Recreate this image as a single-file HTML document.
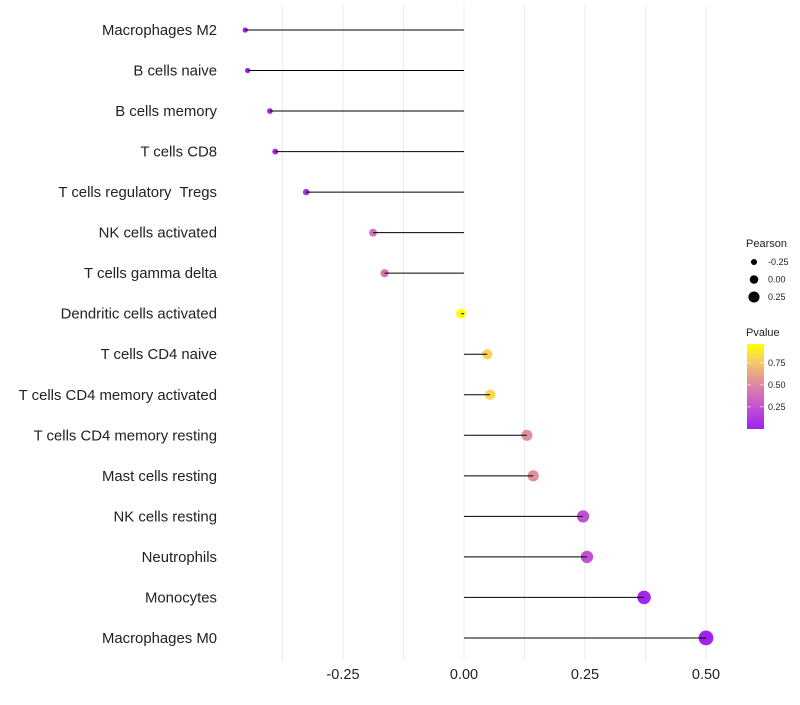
<!DOCTYPE html>
<html><head><meta charset="utf-8"><style>
body{margin:0;background:#fff;}
svg{font-family:"Liberation Sans",sans-serif;}
</style></head><body>
<svg id="chart" width="800" height="700"></svg>
<script>
const categories=["Macrophages M2","B cells naive","B cells memory","T cells CD8","T cells regulatory  Tregs","NK cells activated","T cells gamma delta","Dendritic cells activated","T cells CD4 naive","T cells CD4 memory activated","T cells CD4 memory resting","Mast cells resting","NK cells resting","Neutrophils","Monocytes","Macrophages M0"];
const pearson=[-0.452,-0.447,-0.401,-0.390,-0.326,-0.188,-0.164,-0.006,0.048,0.054,0.130,0.143,0.246,0.254,0.372,0.500];
const pvalues=[0.02,0.02,0.05,0.05,0.08,0.40,0.42,0.97,0.80,0.82,0.55,0.55,0.25,0.25,0.04,0.02];
const xTicks=[-0.25,0,0.25,0.5];
const xTickLabels=["-0.25","0.00","0.25","0.50"];
const sizeLegend=[-0.25,0,0.25];
const sizeLegendLabels=["-0.25","0.00","0.25"];
const colorTicks=[0.25,0.5,0.75];
const colorTickLabels=["0.25","0.50","0.75"];

const NS="http://www.w3.org/2000/svg";
const svg=document.getElementById('chart');
function mk(t,a,p){const e=document.createElementNS(NS,t);for(const k in a)e.setAttribute(k,a[k]);(p||svg).appendChild(e);return e;}
const x=v=>464+v*484;
const y=i=>30+i*40.53;
const r=v=>4.9+5*v;
const stops=[[0.01,[160,32,240]],[0.3,[200,90,205]],[0.55,[224,144,154]],[0.8,[248,210,90]],[0.97,[255,255,0]]];
function color(p){p=Math.max(0.01,Math.min(0.97,p));
 for(let i=0;i<stops.length-1;i++){const [a,ca]=stops[i],[b,cb]=stops[i+1];
  if(p<=b){const t=(p-a)/(b-a);return `rgb(${ca.map((c,k)=>Math.round(c+(cb[k]-c)*t))})`;}}
 return 'rgb(255,255,0)';}

for(let v=-0.375;v<=0.5001;v+=0.125){
 const g=mk('line',{x1:x(v),x2:x(v),y1:5,y2:660,stroke:'#ebebeb','stroke-width':1});
 
 
}
xTicks.forEach((v,i)=>{
 const t=mk('text',{x:x(v),y:679,'text-anchor':'middle','font-size':14.5,fill:'#222'});t.textContent=xTickLabels[i];
 
 
});
categories.forEach((c,i)=>{
 const t=mk('text',{x:217,y:y(i)+5,'text-anchor':'end','font-size':14.9,fill:'#222','xml:space':'preserve'});
 t.setAttributeNS('http://www.w3.org/XML/1998/namespace','xml:space','preserve');
 t.style.whiteSpace='pre';
 t.textContent=c;
 
 
 const pt=mk('circle',{cx:x(pearson[i]),cy:y(i),r:r(pearson[i]),fill:color(pvalues[i])});
 
 
 const ln=mk('line',{x1:x(0),x2:x(pearson[i]),y1:y(i),y2:y(i),stroke:'#000','stroke-width':1});
 
 
});
const lt=mk('text',{x:746,y:247,'font-size':11,fill:'#222'});lt.textContent='Pearson';


sizeLegend.forEach((v,i)=>{
 const c=mk('circle',{cx:754,cy:262+i*17.5,r:r(v)-0.6,fill:'#000'});
 
 
 const t=mk('text',{x:768,y:265+i*17.5,'font-size':9,fill:'#222'});t.textContent=sizeLegendLabels[i];
 
 
});
const pt2=mk('text',{x:746,y:336,'font-size':11,fill:'#222'});pt2.textContent='Pvalue';


const defs=mk('defs',{});
const lg=mk('linearGradient',{id:'pg',x1:0,y1:1,x2:0,y2:0},defs);
stops.forEach(s=>mk('stop',{offset:(s[0]-0.01)/0.96,'stop-color':color(s[0])},lg));
const bar=mk('rect',{x:747,y:344,width:17,height:85,fill:'url(#pg)'});


const cy=p=>428-(p-0.01)*88;
colorTicks.forEach((v,i)=>{
 mk('line',{x1:747,x2:751,y1:cy(v),y2:cy(v),stroke:'#fff','stroke-width':0.6});
 mk('line',{x1:760,x2:764,y1:cy(v),y2:cy(v),stroke:'#fff','stroke-width':0.6});
 const t=mk('text',{x:768,y:cy(v)+3,'font-size':9,fill:'#222'});t.textContent=colorTickLabels[i];
 
 
});
</script>
</body></html>
